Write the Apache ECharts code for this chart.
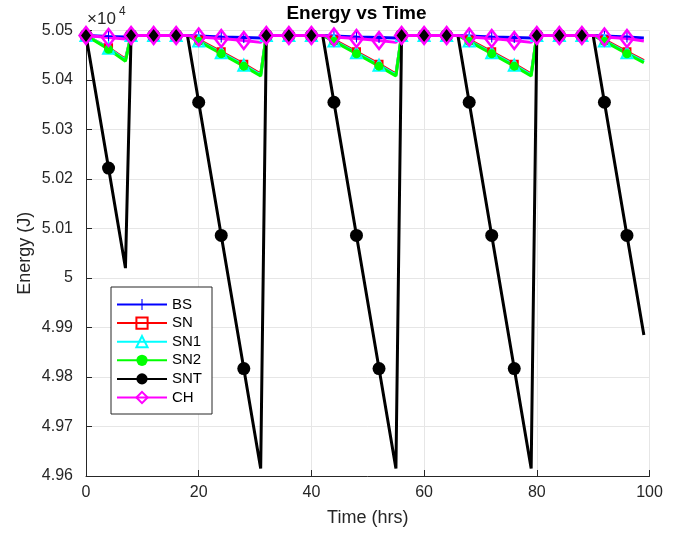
<!DOCTYPE html>
<html><head><meta charset="utf-8">
<script src="https://cdn.jsdelivr.net/npm/echarts@6/dist/echarts.min.js"></script>
<style>html,body{margin:0;padding:0;background:#fff}#c{width:681px;height:533px}</style>
</head><body><div id="c"></div>
<script>
// Time (hrs) at which values were read
const times = [0,4,7,8,12,16,18,20,24,28,31,32,36,40,42,44,48,52,55,56,60,64,66,68,72,76,79,80,84,88,90,92,96,99];
// Energy (J)
const BS  = [50490,50488,50487,50490,50490,50490,50490,50489,50487,50486,50485,50490,50490,50490,50490,50489,50487,50486,50485,50490,50490,50490,50490,50489,50487,50486,50485,50490,50490,50490,50490,50489,50487,50485];
const SN  = [50490,50465,50442,50490,50490,50490,50490,50481,50457,50432,50412,50490,50490,50490,50490,50481,50457,50432,50412,50490,50490,50490,50490,50481,50457,50432,50412,50490,50490,50490,50490,50481,50457,50439];
const SN1 = [50490,50464,50440,50490,50490,50490,50490,50479,50455,50430,50410,50490,50490,50490,50490,50479,50455,50430,50410,50490,50490,50490,50490,50479,50455,50430,50410,50490,50490,50490,50490,50479,50455,50437];
const SN2 = [50490,50462,50438,50490,50490,50490,50490,50478,50453,50428,50408,50490,50490,50490,50490,50478,50453,50428,50408,50490,50490,50490,50490,50478,50453,50428,50408,50490,50490,50490,50490,50478,50453,50435];
const SNT = [50490,50222,50020,50490,50490,50490,50490,50355,50086,49817,49615,50490,50490,50490,50490,50355,50086,49817,49615,50490,50490,50490,50490,50355,50086,49817,49615,50490,50490,50490,50490,50355,50086,49885];
const CH  = [50490,50486,50483,50490,50490,50490,50490,50487,50484,50480,50476,50490,50490,50490,50490,50487,50484,50480,50476,50490,50490,50490,50490,50487,50484,50480,50476,50490,50490,50490,50490,50487,50484,50479];
const seriesNames = ['BS','SN','SN1','SN2','SNT','CH'];
const xTicks = [0,20,40,60,80,100];
const yTickLabels = ['4.96','4.97','4.98','4.99','5','5.01','5.02','5.03','5.04','5.05'];

const FONT = 'Liberation Sans, Arial, Helvetica, sans-serif';
const AX = '#262626';

function mk(name, vals, symbol, size, lineColor, itemStyle) {
  return {
    type: 'line', name: name,
    data: times.map((t, i) => (t % 4 === 0) ? [t, vals[i]] : { value: [t, vals[i]], symbol: 'none' }),
    symbol: symbol, symbolSize: size, showAllSymbol: true,
    lineStyle: { color: lineColor, width: 3 },
    itemStyle: itemStyle,
    animation: false, emphasis: { disabled: true }, silent: true
  };
}

const chart = echarts.init(document.getElementById('c'), null, { renderer: 'canvas' });
chart.setOption({
  backgroundColor: '#fff',
  textStyle: { fontFamily: FONT },
  grid: { left: 86, right: 31.5, top: 30.5, bottom: 57, outerBoundsMode: 'none' },
  graphic: [
    { type: 'text', style: { text: 'Energy vs Time', x: 356.5, y: 14, textAlign: 'center', textVerticalAlign: 'middle', font: 'bold 19px ' + FONT, fill: '#000' } },
    { type: 'text', style: { text: '\u00d710', x: 87, y: 19, textAlign: 'left', textVerticalAlign: 'middle', font: '17px ' + FONT, fill: AX } },
    { type: 'text', style: { text: '4', x: 119, y: 12, textAlign: 'left', textVerticalAlign: 'middle', font: '12px ' + FONT, fill: AX } }
  ],
  legend: {
    data: seriesNames, orient: 'vertical', left: 111, top: 287,
    itemWidth: 50, itemHeight: 14, itemGap: 3.6,
    padding: [10, 10, 9, 5],
    backgroundColor: '#fff', borderColor: AX, borderWidth: 1, borderRadius: 0,
    textStyle: { fontSize: 15, color: '#000', fontFamily: FONT }
  },
  xAxis: {
    type: 'value', min: 0, max: 100, interval: 20,
    name: 'Time (hrs)', nameLocation: 'middle', nameGap: 33, nameMoveOverlap: false,
    nameTextStyle: { fontSize: 18, color: AX, fontFamily: FONT },
    axisLine: { show: true, onZero: false, lineStyle: { color: AX, width: 1 } },
    axisTick: { show: true, inside: true, length: 6, lineStyle: { color: AX } },
    axisLabel: { fontSize: 16, color: AX, margin: 9, formatter: v => (xTicks.indexOf(v) >= 0 ? String(v) : '') },
    splitLine: { show: true, lineStyle: { color: '#e6e6e6', width: 1 } }
  },
  yAxis: {
    type: 'value', min: 49600, max: 50500, interval: 100,
    name: 'Energy (J)', nameLocation: 'middle', nameGap: 52, nameMoveOverlap: false,
    nameTextStyle: { fontSize: 18, color: AX, fontFamily: FONT },
    axisLine: { show: true, onZero: false, lineStyle: { color: AX, width: 1 } },
    axisTick: { show: true, inside: true, length: 6, lineStyle: { color: AX } },
    axisLabel: { fontSize: 16, color: AX, margin: 13, formatter: v => yTickLabels[Math.round((v - 49600) / 100)] || '' },
    splitLine: { show: true, lineStyle: { color: '#e6e6e6', width: 1 } }
  },
  series: [
    mk('BS', BS, 'path://M-1,-10 L1,-10 L1,-1 L10,-1 L10,1 L1,1 L1,10 L-1,10 L-1,1 L-10,1 L-10,-1 L-1,-1 Z', 11, '#0000ff', { color: '#0000ff' }),
    mk('SN', SN, 'rect', 7, '#ff0000', { color: 'rgba(255,0,0,0)', borderColor: '#ff0000', borderWidth: 2 }),
    mk('SN1', SN1, 'triangle', 11, '#00ffff', { color: 'rgba(0,255,255,0)', borderColor: '#00ffff', borderWidth: 2 }),
    mk('SN2', SN2, 'circle', 9, '#00ff00', { color: '#00ff00' }),
    mk('SNT', SNT, 'circle', 13, '#000000', { color: '#000000' }),
    mk('CH', CH, 'diamond', [13, 17], '#ff00ff', { color: 'rgba(255,0,255,0)', borderColor: '#ff00ff', borderWidth: 2.5 })
  ]
});
</script>
</body></html>
